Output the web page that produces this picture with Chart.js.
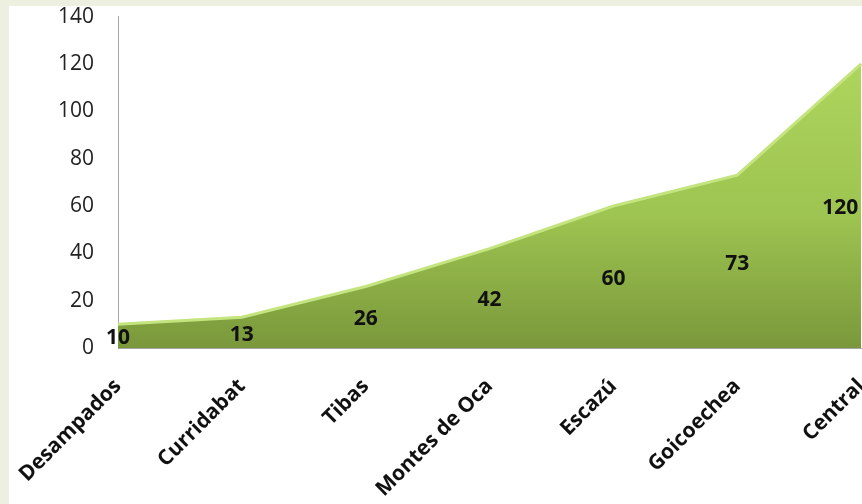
<!DOCTYPE html>
<html>
<head>
<meta charset="utf-8">
<script src="https://cdn.jsdelivr.net/npm/chart.js@4/dist/chart.umd.min.js"></script>
<style>
  html, body { margin: 0; padding: 0; overflow: hidden; }
  body { background: #edf0e0; width: 862px; height: 504px; position: relative; }
  #panel { position: absolute; left: 9px; top: 6px; width: 920px; height: 560px; background: #ffffff; }
  #wrap { position: absolute; left: 0; top: -12px; width: 897px; height: 530px; }
</style>
</head>
<body>
<div id="panel"></div>
<div id="wrap"><canvas id="areaChart" width="897" height="530"></canvas></div>
<script>
var cantones = ['Desampados', 'Curridabat', 'Tibas', 'Montes de Oca', 'Escazú', 'Goicoechea', 'Central'];
var valores = [10, 13, 26, 42, 60, 73, 120];
var yTicks = [0, 20, 40, 60, 80, 100, 120, 140];

var fontName = '"Open Sans", "Noto Sans", sans-serif';

// labels sit in the middle of the area, like the original
var valueLabels = {
  id: 'valueLabels',
  afterDatasetsDraw: function(chart) {
    var ctx = chart.ctx;
    var meta = chart.getDatasetMeta(0);
    var yScale = chart.scales.y;
    var area = chart.chartArea;
    ctx.save();
    ctx.font = 'bold 21px ' + fontName;
    ctx.fillStyle = '#111111';
    ctx.textAlign = 'center';
    ctx.textBaseline = 'middle';
    for (var i = 0; i < valores.length; i++) {
      var txt = String(valores[i]);
      var x = meta.data[i].x;
      var w = ctx.measureText(txt).width;
      if (x + w / 2 > area.right - 3) {
        x = area.right - 3 - w / 2;
      }
      var y = yScale.getPixelForValue(valores[i] / 2) + 2;
      ctx.fillText(txt, x, y);
    }
    ctx.restore();
  }
};

function greenFill(context) {
  var chart = context.chart;
  var area = chart.chartArea;
  if (!area) {
    return '#9cc04e';
  }
  var g = chart.ctx.createLinearGradient(0, area.top, 0, area.bottom);
  g.addColorStop(0, '#b2da60');
  g.addColorStop(0.6, '#9ec451');
  g.addColorStop(1, '#7a983b');
  return g;
}

var ctx = document.getElementById('areaChart');
var chart = new Chart(ctx, {
  type: 'line',
  data: {
    labels: cantones,
    datasets: [{
      data: valores,
      fill: 'origin',
      backgroundColor: greenFill,
      borderColor: '#c3e47e',
      borderWidth: 3,
      pointRadius: 0,
      tension: 0
    }]
  },
  options: {
    responsive: false,
    animation: false,
    layout: {
      padding: { top: -3, right: 11, left: 0, bottom: 0 }
    },
    plugins: {
      legend: { display: false },
      tooltip: { enabled: false }
    },
    scales: {
      x: {
        offset: false,
        grid: { display: false },
        border: { display: true, color: '#a6a6a6', width: 1 },
        ticks: {
          autoSkip: false,
          maxRotation: 45,
          minRotation: 45,
          padding: 18,
          color: '#111111',
          font: { family: fontName, size: 21, weight: 'bold' }
        },
        afterFit: function(scale) {
          scale.height = 530 - 360;
        }
      },
      y: {
        min: 0,
        max: 140,
        afterBuildTicks: function(scale) {
          scale.ticks = yTicks.map(function(v) { return { value: v }; });
        },
        grid: { display: false },
        border: { display: true, color: '#a6a6a6', width: 1 },
        ticks: {
          padding: 16,
          color: '#222222',
          font: { family: fontName, size: 21 }
        },
        afterFit: function(scale) {
          scale.width = 118;
        }
      }
    }
  },
  plugins: [valueLabels]
});
</script>
</body>
</html>
